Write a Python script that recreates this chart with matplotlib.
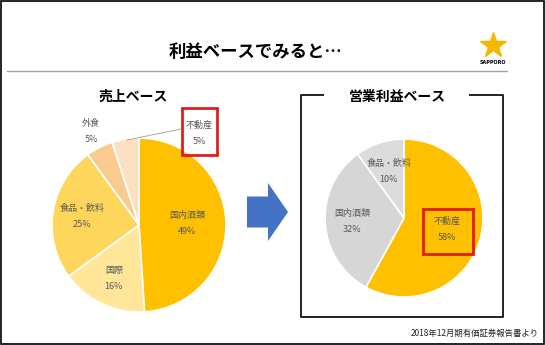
import matplotlib

matplotlib.use("Agg")
import matplotlib.pyplot as plt  # noqa: E402
from matplotlib.patches import FancyArrow, Rectangle  # noqa: E402
import numpy as np  # noqa: E402

plt.rcParams["font.family"] = ["Noto Sans CJK JP", "DejaVu Sans"]

# data
sales_labels = ["国内酒類", "国際", "食品・飲料", "外食", "不動産"]
sales_pct = [49, 16, 25, 5, 5]
sales_colors = ["#FFC000", "#FFE699", "#FFD65C", "#F9CB8E", "#FCE1C0"]

profit_labels = ["不動産", "国内酒類", "食品・飲料"]
profit_pct = [58, 32, 10]
profit_colors = ["#FFC000", "#D6D6D6", "#DCDCDC"]

W, H = 545, 345
TXT = "#595959"
RED = "#E01E1E"

fig = plt.figure(figsize=(W / 100, H / 100), dpi=100)
ax = fig.add_axes([0, 0, 1, 1])


def Y(y):
    # pixel row (top-down) -> data y
    return H - y


def pie_labels(wedges, labels, vals, cx, cy, r, dist, skip=()):
    for w, lab, v, d in zip(wedges, labels, vals, dist):
        if lab in skip:
            continue
        a = np.deg2rad((w.theta1 + w.theta2) / 2)
        ax.text(cx + d * r * np.cos(a), cy + d * r * np.sin(a), f"{lab}\n{v}%",
                ha="center", va="center", fontsize=6.5, color=TXT, linespacing=2.0)


# left pie: sales base
lc, lr = (139, Y(225)), 87
lw, _ = ax.pie(sales_pct, colors=sales_colors, startangle=90, counterclock=False,
               center=lc, radius=lr, wedgeprops=dict(edgecolor="white", linewidth=1.2))
pie_labels(lw, sales_labels, sales_pct, lc[0], lc[1], lr, [0.55, 0.68, 0.66, 1.21, 1.2],
           skip=("不動産",))
ax.text(199, Y(133), f"{sales_labels[4]}\n{sales_pct[4]}%", ha="center", va="center",
        fontsize=6.5, color=TXT, linespacing=2.0)
ax.plot([181, 127], [Y(129), Y(140)], color="#A6A6A6", lw=0.7)
ax.add_patch(Rectangle((182, Y(155)), 35, 47, fill=False, edgecolor=RED, lw=2))
ax.text(133, Y(97), "売上ベース", ha="center", va="center", fontsize=10, fontweight="bold")

# right pie: operating profit base
rc, rr = (404, Y(218)), 79
rw, _ = ax.pie(profit_pct, colors=profit_colors, startangle=90, counterclock=False,
               center=rc, radius=rr, wedgeprops=dict(edgecolor="white", linewidth=1.2))
pie_labels(rw, profit_labels, profit_pct, rc[0], rc[1], rr, [0.56, 0.66, 0.62])
ax.add_patch(Rectangle((423, Y(254)), 50, 45, fill=False, edgecolor=RED, lw=2))
ax.plot([323, 301, 301, 503, 503, 470], [Y(95), Y(95), Y(317), Y(317), Y(95), Y(95)],
        color="#222222", lw=1.4)
ax.text(397, Y(97), "営業利益ベース", ha="center", va="center", fontsize=10,
        fontweight="bold")

# arrow
ax.add_patch(FancyArrow(247, Y(212), 41, 0, width=31, head_width=58, head_length=20,
                        length_includes_head=True, color="#4472C4", lw=0))

# header
ax.text(256, Y(52), "利益ベースでみると…", ha="center", va="center", fontsize=12.5,
        fontweight="bold")
ax.plot([7, 507], [Y(71), Y(71)], color="#A0A0A0", lw=1)
ax.plot(493, Y(45), marker="*", ms=19, color="#F5B800", mec="#F5B800")
ax.text(493, Y(63), "SAPPORO", ha="center", va="center", fontsize=3.5,
        fontweight="bold", family="DejaVu Sans")

ax.text(539, Y(333), "2018年12月期有価証券報告書より", ha="right", va="center",
        fontsize=6, color="#222222")

ax.add_patch(Rectangle((1, 1), W - 2, H - 2, fill=False, edgecolor="black", lw=1.2))

ax.set_xlim(0, W)
ax.set_ylim(0, H)
ax.set_aspect("auto")
ax.axis("off")
fig.savefig("out.png", dpi=100)
